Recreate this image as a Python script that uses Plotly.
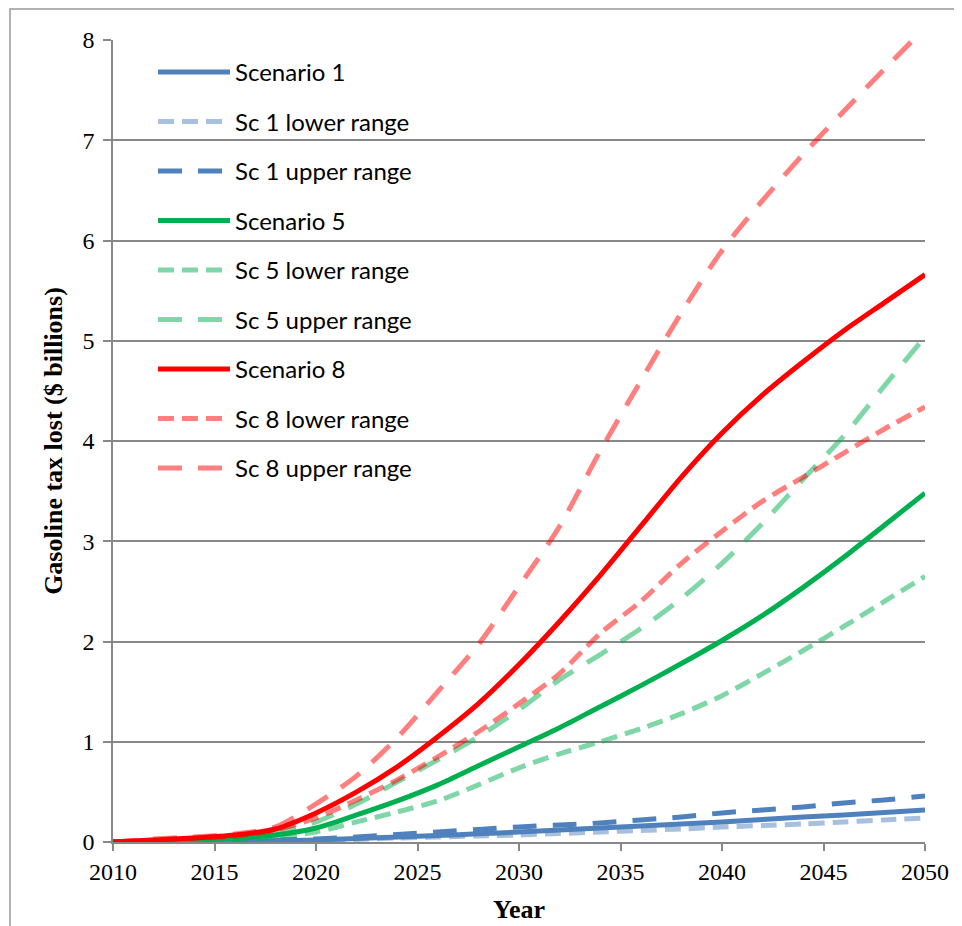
import plotly.graph_objects as go

years = [2010, 2012, 2014, 2016, 2018, 2020, 2022, 2024, 2026, 2028, 2030,
         2032, 2034, 2036, 2038, 2040, 2042, 2044, 2046, 2048, 2050]

sc1 = [0, 0.002, 0.004, 0.008, 0.013, 0.02, 0.035, 0.05, 0.065, 0.082, 0.10,
       0.12, 0.14, 0.16, 0.18, 0.20, 0.225, 0.25, 0.27, 0.295, 0.32]
sc1_low = [0, 0.002, 0.003, 0.006, 0.01, 0.015, 0.025, 0.04, 0.05, 0.06, 0.07,
           0.085, 0.10, 0.115, 0.13, 0.15, 0.165, 0.18, 0.20, 0.22, 0.24]
sc1_up = [0, 0.003, 0.006, 0.012, 0.02, 0.03, 0.05, 0.075, 0.10, 0.125, 0.15,
          0.17, 0.19, 0.22, 0.25, 0.29, 0.32, 0.35, 0.39, 0.42, 0.46]

sc5 = [0, 0.01, 0.02, 0.04, 0.07, 0.14, 0.27, 0.41, 0.57, 0.76, 0.95,
       1.14, 1.35, 1.56, 1.78, 2.01, 2.26, 2.54, 2.84, 3.16, 3.48]
sc5_low = [0, 0.005, 0.01, 0.02, 0.05, 0.10, 0.20, 0.30, 0.41, 0.57, 0.74,
           0.88, 1.00, 1.13, 1.28, 1.46, 1.68, 1.91, 2.15, 2.40, 2.65]
sc5_up = [0, 0.005, 0.012, 0.03, 0.09, 0.20, 0.38, 0.60, 0.82, 1.05, 1.32,
          1.62, 1.87, 2.13, 2.43, 2.78, 3.18, 3.62, 4.05, 4.55, 5.04]

sc8 = [0, 0.02, 0.04, 0.07, 0.13, 0.29, 0.50, 0.75, 1.05, 1.38, 1.77,
       2.20, 2.66, 3.15, 3.64, 4.08, 4.46, 4.79, 5.10, 5.38, 5.66]
sc8_low = [0, 0.02, 0.04, 0.06, 0.12, 0.24, 0.42, 0.62, 0.85, 1.10, 1.38,
           1.68, 2.08, 2.40, 2.78, 3.10, 3.40, 3.64, 3.88, 4.12, 4.34]
sc8_up = [0, 0.03, 0.05, 0.08, 0.15, 0.38, 0.66, 1.04, 1.50, 1.97, 2.55,
          3.15, 3.90, 4.60, 5.28, 5.90, 6.40, 6.86, 7.29, 7.71, 8.12]

x_ticks = [2010, 2015, 2020, 2025, 2030, 2035, 2040, 2045, 2050]
y_ticks = [0, 1, 2, 3, 4, 5, 6, 7, 8]

SHORT = "16px,8px"
LONG = "24px,16px"

series = [
    ("Scenario 1", sc1, "#4F81BD", "solid"),
    ("Sc 1 lower range", sc1_low, "rgba(79,129,189,0.5)", SHORT),
    ("Sc 1 upper range", sc1_up, "#4F81BD", LONG),
    ("Scenario 5", sc5, "#00B050", "solid"),
    ("Sc 5 lower range", sc5_low, "rgba(0,176,80,0.5)", SHORT),
    ("Sc 5 upper range", sc5_up, "rgba(0,176,80,0.5)", LONG),
    ("Scenario 8", sc8, "#FF0000", "solid"),
    ("Sc 8 lower range", sc8_low, "rgba(255,0,0,0.5)", SHORT),
    ("Sc 8 upper range", sc8_up, "rgba(255,0,0,0.5)", LONG),
]

fig = go.Figure()
for i, (name, vals, color, dash) in enumerate(series):
    fig.add_trace(go.Scatter(
        x=years, y=vals, name=name, mode="lines",
        line=dict(color=color, width=5, dash=dash, shape="spline", smoothing=0.8),
        legendgroup=f"g{i}", hoverinfo="skip",
    ))

# page has an 8px body margin, so the figure is drawn 8px smaller
W, H = 954, 918
ml, mr, mt, mb = 105, 37, 32, 84
pw, ph = W - ml - mr, H - mt - mb

fig.update_layout(
    width=W, height=H,
    margin=dict(l=ml, r=mr, t=mt, b=mb, autoexpand=False),
    paper_bgcolor="white", plot_bgcolor="white",
    font=dict(family="Liberation Serif", color="black"),
    showlegend=True,
    legend=dict(
        x=(145 - ml) / pw, y=(834 - 42) / ph, xanchor="left", yanchor="top",
        font=dict(family="Lato", size=24, color="black"),
        bgcolor="rgba(0,0,0,0)", tracegroupgap=15.3, itemwidth=72,
    ),
    xaxis=dict(
        range=[2010, 2050], tickvals=x_ticks, ticks="outside", ticklen=7,
        tickcolor="#888888", tickwidth=1.5, showline=True, linecolor="#888888",
        linewidth=1.5, showgrid=False, zeroline=False, automargin=False,
        tickfont=dict(family="Liberation Serif", size=24),
        title=dict(text="<b>Year</b>", font=dict(family="Liberation Serif", size=26),
                   standoff=16),
    ),
    yaxis=dict(
        range=[0, 8], tickvals=y_ticks, ticks="outside", ticklen=8,
        tickcolor="#888888", tickwidth=1.5, showline=True, linecolor="#888888",
        linewidth=1.5, showgrid=True, gridcolor="#888888", gridwidth=1.5,
        zeroline=False, ticklabelstandoff=4, automargin=False,
        tickfont=dict(family="Liberation Serif", size=24),
        title=dict(text="<b>Gasoline tax lost ($ billions)</b>",
                   font=dict(family="Liberation Serif", size=26), standoff=12),
    ),
    shapes=[dict(
        type="rect", xref="paper", yref="paper",
        x0=(2 - ml) / pw, x1=(975 - ml) / pw,
        y0=(834 - 940) / ph, y1=(834 - 1) / ph,
        line=dict(color="#999999", width=1.5), fillcolor="rgba(0,0,0,0)",
        layer="below",
    )],
)

fig.write_html("out.html")
